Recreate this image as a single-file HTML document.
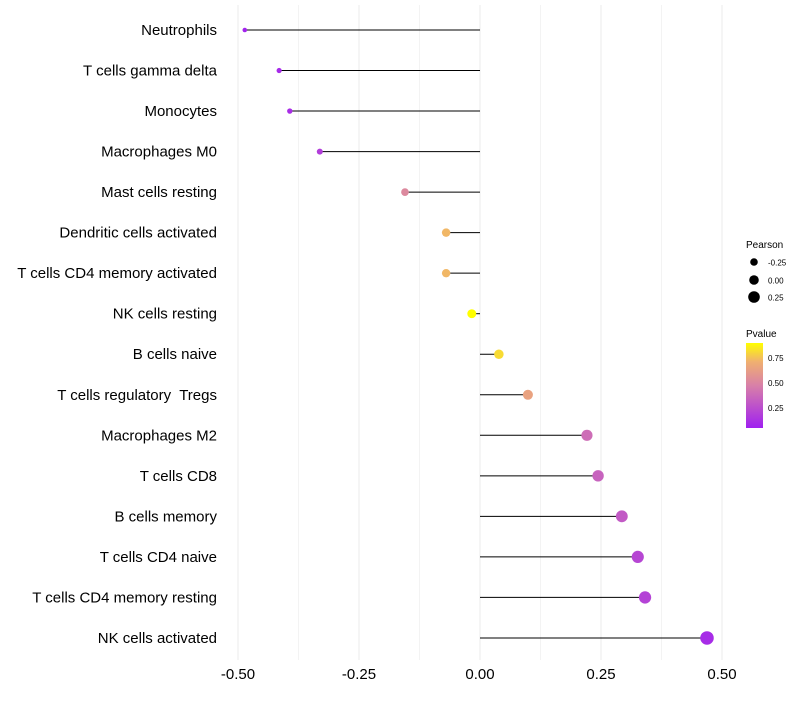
<!DOCTYPE html>
<html><head><meta charset="utf-8"><style>
body{margin:0;background:#fff;font-family:"Liberation Sans",sans-serif}
text{white-space:pre}
</style></head><body>
<svg id="chart" width="800" height="700" xmlns="http://www.w3.org/2000/svg" font-family="Liberation Sans, sans-serif">
<defs>
<linearGradient id="pgrad" x1="0" y1="1" x2="0" y2="0">
<stop offset="0" stop-color="#a020f0"/><stop offset="0.5" stop-color="#d880a8"/><stop offset="0.78" stop-color="#f0b070"/><stop offset="1" stop-color="#ffff00"/>
</linearGradient>
</defs>
<g id="grid"></g><g id="marks"></g><g id="labels"></g>
<g>
<text x="746" y="248" font-size="10" fill="#000">Pearson</text>
<circle cx="754" cy="262" r="3.8" fill="#000"/><text x="768" y="265.5" font-size="8">-0.25</text>
<circle cx="754" cy="280" r="4.8" fill="#000"/><text x="768" y="283.5" font-size="8">0.00</text>
<circle cx="754" cy="297" r="5.8" fill="#000"/><text x="768" y="300.5" font-size="8">0.25</text>
<text x="746" y="337" font-size="10" fill="#000">Pvalue</text>
<rect x="746" y="343" width="17" height="85" fill="url(#pgrad)"/>
<text x="768" y="361" font-size="8">0.75</text>
<text x="768" y="386" font-size="8">0.50</text>
<text x="768" y="411" font-size="8">0.25</text>
</g>
</svg>
<script>
const categories=["Neutrophils","T cells gamma delta","Monocytes","Macrophages M0","Mast cells resting","Dendritic cells activated","T cells CD4 memory activated","NK cells resting","B cells naive","T cells regulatory  Tregs","Macrophages M2","T cells CD8","B cells memory","T cells CD4 naive","T cells CD4 memory resting","NK cells activated"];
const pearson=[-0.486,-0.415,-0.393,-0.331,-0.155,-0.070,-0.070,-0.017,0.039,0.099,0.221,0.244,0.293,0.326,0.341,0.469];
const pvalues=[0.02,0.05,0.07,0.15,0.55,0.8,0.8,1.0,0.9,0.7,0.4,0.35,0.3,0.2,0.18,0.06];
const xTicks=[-0.5,-0.25,0,0.25,0.5];
const xTickLabels=["-0.50","-0.25","0.00","0.25","0.50"];
const NS="http://www.w3.org/2000/svg";
const xS=v=>480+v*484;
const yS=i=>30+i*40.53;
const rS=v=>2.2+(v+0.5)*4.7;
function lerp(a,b,t){return Math.round(a+(b-a)*t);}
const stops=[[0,[160,32,240]],[0.5,[216,128,168]],[0.78,[240,176,112]],[1,[255,255,0]]];
function col(p){p=Math.max(0,Math.min(1,p));for(let k=0;k<stops.length-1;k++){const [a,ca]=stops[k],[b,cb]=stops[k+1];if(p<=b){const t=(p-a)/(b-a);return `rgb(${lerp(ca[0],cb[0],t)},${lerp(ca[1],cb[1],t)},${lerp(ca[2],cb[2],t)})`;}}return "rgb(255,255,0)";}
function mk(tag,attrs,parent){const e=document.createElementNS(NS,tag);for(const k in attrs)e.setAttribute(k,attrs[k]);document.getElementById(parent).appendChild(e);return e;}
const grid=[-0.5,-0.375,-0.25,-0.125,0,0.125,0.25,0.375,0.5];
grid.forEach(g=>{const l=mk("line",{x1:xS(g),x2:xS(g),y1:5,y2:660,stroke:"#ebebeb","stroke-width":g*8%2===0?1:0.6},"grid");

});
categories.forEach((c,i)=>{
const t=mk("text",{x:217,y:yS(i)+5,"text-anchor":"end","font-size":"15",fill:"#000"},"labels");t.textContent=c;


const s=mk("line",{x1:xS(0),x2:xS(pearson[i]),y1:yS(i),y2:yS(i),stroke:"#000","stroke-width":1},"marks");


const d=mk("circle",{cx:xS(pearson[i]),cy:yS(i),r:rS(pearson[i]),fill:col(pvalues[i])},"marks");


});
xTicks.forEach((v,i)=>{const t=mk("text",{x:xS(v),y:679,"text-anchor":"middle","font-size":"15",fill:"#000"},"labels");t.textContent=xTickLabels[i];

});
</script>
</body></html>
